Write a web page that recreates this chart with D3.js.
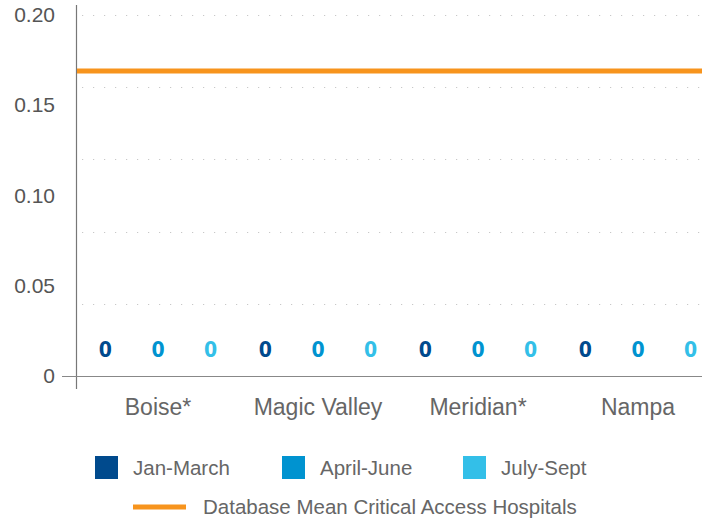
<!DOCTYPE html>
<html lang="en">
<head>
<meta charset="UTF-8">
<title>Quarterly values by location</title>
<style>
  body, html { margin: 0; padding: 0; background: #fff; }
  svg { display: block; font-family: "Liberation Sans", Arial, sans-serif; }
</style>
</head>
<body>
<svg id="svg" width="710" height="523"></svg>
<script src="https://d3js.org/d3.v7.min.js"></script>
<script>
const locations = ['Boise*', 'Magic Valley', 'Meridian*', 'Nampa']
const quarters = ['Jan-March', 'April-June', 'July-Sept']
const janMarch = [0, 0, 0, 0]
const aprilJune = [0, 0, 0, 0]
const julySept = [0, 0, 0, 0]
const databaseMean = 0.169
const tickLabels = [0, 0.05, 0.10, 0.15, 0.20]
const gridValues = [0.04, 0.08, 0.12, 0.16, 0.20]

const colors = ['#004a8d', '#0093d0', '#33bfe8']
const orange = '#f7941d'
const series = [janMarch, aprilJune, julySept]

const svg = d3.select('#svg')

const x = d3.scaleBand()
  .domain(locations)
  .range([78, 718])

const xq = d3.scaleBand()
  .domain(quarters)
  .range([0, x.bandwidth()])
  .paddingInner(0.1)
  .paddingOuter(0.07)

const y = d3.scaleLinear()
  .domain([0, 0.2])
  .range([376, 15])

// dotted gridlines
svg.append('g')
  .selectAll('line')
  .data(gridValues)
  .join('line')
  .attr('x1', 82).attr('x2', 702)
  .attr('y1', d => Math.round(y(d)) + 0.5)
  .attr('y2', d => Math.round(y(d)) + 0.5)
  .attr('stroke', '#c8c8c8')
  .attr('stroke-width', 1.2)
  .attr('stroke-dasharray', '1.2,9.8')

// y tick labels
svg.append('g')
  .selectAll('text')
  .data(tickLabels)
  .join('text')
  .attr('x', 55)
  .attr('y', d => y(d) + 7)
  .attr('text-anchor', 'end')
  .attr('fill', '#555')
  .style('font-size', '21px')
  .text(d => d === 0 ? '0' : d.toFixed(2))

// axes lines
svg.append('line')
  .attr('x1', 76.5).attr('x2', 76.5)
  .attr('y1', 5).attr('y2', 389)
  .attr('stroke', '#777').attr('stroke-width', 1.2)

svg.append('line')
  .attr('x1', 62).attr('x2', 702)
  .attr('y1', 376.5).attr('y2', 376.5)
  .attr('stroke', '#888').attr('stroke-width', 1.2)

// bars (all zero height) and value labels
const groups = svg.append('g')
  .selectAll('g')
  .data(locations)
  .join('g')
  .attr('transform', d => `translate(${x(d)},0)`)

quarters.forEach((q, qi) => {
  groups.append('rect')
    .attr('x', xq(q))
    .attr('width', xq.bandwidth())
    .attr('y', (d, i) => y(series[qi][i]))
    .attr('height', (d, i) => y(0) - y(series[qi][i]))
    .attr('fill', colors[qi])

  groups.append('text')
    .attr('x', xq(q) + xq.bandwidth() / 2)
    .attr('y', (d, i) => y(series[qi][i]) - 19)
    .attr('text-anchor', 'middle')
    .attr('fill', colors[qi])
    .style('font-family', '"Liberation Sans Narrow", "DejaVu Sans Condensed", sans-serif')
    .style('font-weight', 'bold')
    .style('font-size', '21px')
    .text((d, i) => series[qi][i])
})

// category labels
svg.append('g')
  .selectAll('text')
  .data(locations)
  .join('text')
  .attr('x', d => x(d) + x.bandwidth() / 2)
  .attr('y', 415)
  .attr('text-anchor', 'middle')
  .attr('fill', '#666')
  .style('font-size', '23px')
  .text(d => d)

// mean line
svg.append('line')
  .attr('x1', 77).attr('x2', 702)
  .attr('y1', y(databaseMean)).attr('y2', y(databaseMean))
  .attr('stroke', orange).attr('stroke-width', 5)

// legend
const legendX = [95, 282, 463]
const legend = svg.append('g')
  .selectAll('g')
  .data(quarters)
  .join('g')
  .attr('transform', (d, i) => `translate(${legendX[i]},456)`)

legend.append('rect')
  .attr('width', 23).attr('height', 23)
  .attr('fill', (d, i) => colors[i])

legend.append('text')
  .attr('x', 38).attr('y', 19)
  .attr('fill', '#666')
  .style('font-size', '20.5px')
  .text(d => d)

svg.append('line')
  .attr('x1', 133).attr('x2', 186)
  .attr('y1', 507).attr('y2', 507)
  .attr('stroke', orange).attr('stroke-width', 5)

svg.append('text')
  .attr('x', 203).attr('y', 514)
  .attr('fill', '#666')
  .style('font-size', '20.5px')
  .text('Database Mean Critical Access Hospitals')
</script>
</body>
</html>
